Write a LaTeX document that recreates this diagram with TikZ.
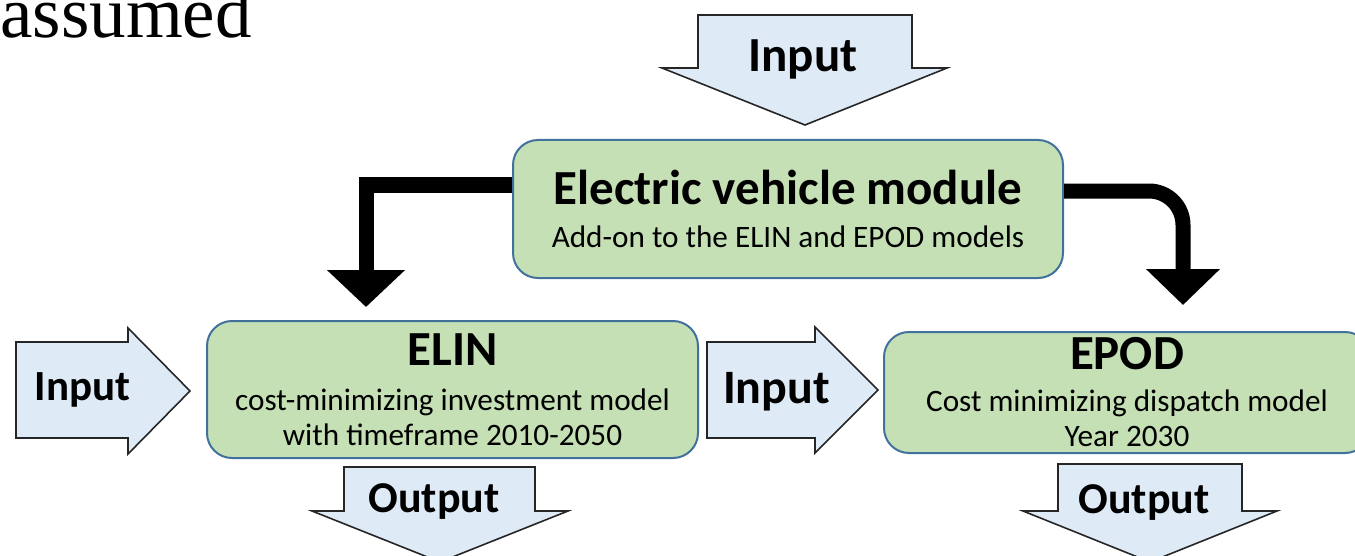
\documentclass[tikz,border=0pt]{standalone}
\usepackage{fontspec}
\setmainfont{Liberation Serif}
\setsansfont{Carlito}
\usetikzlibrary{arrows.meta,positioning,calc}
\definecolor{ModelGreen}{HTML}{C5E0B4}
\definecolor{ModelEdge}{HTML}{41719C}
\definecolor{FlowBlue}{HTML}{DEEBF7}
\newcommand{\modeltitle}[1]{{\fontsize{24.5}{24.5}\selectfont\bfseries #1}}

\begin{document}
\begin{tikzpicture}[
  x=0.5pt, y=-0.5pt,
  model/.style={draw=ModelEdge,line width=1pt,fill=ModelGreen,rounded corners=12.5pt,align=center,inner sep=0pt,
    font=\sffamily\fontsize{15.6}{17.5}\selectfont},
  flow/.style={draw=black!85,line width=0.8pt,fill=FlowBlue,line join=miter},
  flowtext/.style={anchor=base,inner sep=0pt,font=\sffamily\bfseries\fontsize{24}{24}\selectfont},
  link/.style={line width=7.5pt,line join=miter}
]
  \clip (0,0) rectangle (1355,556);

  % text of the page above
  \node[anchor=base west,inner sep=0pt,font=\fontsize{36.5}{40}\selectfont] (assumed) at (0,38) {assumed};

  % models
  \node[model,minimum width=275pt,minimum height=69pt] (ev) at (788,209)
    {\modeltitle{Electric vehicle module}\\[4pt] Add-on to the ELIN and EPOD models};
  \node[model,minimum width=245.5pt,minimum height=68.5pt] (elin) at (452.5,389.5)
    {\modeltitle{ELIN}\\[5pt] cost-minimizing investment model\\ with timeframe 2010-2050};
  \node[model,minimum width=243pt,minimum height=60.5pt] (epod) at (1127,392.5)
    {\modeltitle{EPOD}\\[3.5pt] Cost minimizing dispatch model\\ Year 2030};

  % block arrows
  \draw[flow] (698,15) -- (912,15) -- (912,68) -- (947,68) -- (805,125) -- (662,68) -- (698,68) -- cycle;
  \node[flowtext,font=\sffamily\bfseries\fontsize{24.5}{24.5}\selectfont] (evin) at (803,72) {Input};
  \draw[flow] (16,342) -- (128,342) -- (128,328) -- (190,391) -- (128,454) -- (128,438) -- (16,438) -- cycle;
  \node[flowtext,font=\sffamily\bfseries\fontsize{21.5}{21.5}\selectfont] (elinin) at (82.5,400) {Input};
  \draw[flow] (707,342) -- (815,342) -- (815,327) -- (878,390) -- (815,453) -- (815,438) -- (707,438) -- cycle;
  \node[flowtext] (epodin) at (776.5,403) {Input};
  \draw[flow] (344,467) -- (535,467) -- (535,511) -- (568,511) -- (440,562) -- (312,511) -- (344,511) -- cycle;
  \node[flowtext,font=\sffamily\bfseries\fontsize{22}{22}\selectfont] (elinout) at (434,512) {Output};
  \draw[flow] (1058,464) -- (1242,464) -- (1242,511) -- (1277,511) -- (1150,562) -- (1023,511) -- (1058,511) -- cycle;
  \node[flowtext,font=\sffamily\bfseries\fontsize{22}{22}\selectfont] (epodout) at (1144,513) {Output};

  % links from the module
  \coordinate (lbend) at (366,185);
  \coordinate (ltip) at (366,307);
  \coordinate (rbend) at (1183,191);
  \coordinate (rtip) at (1183,305);
  \draw[link,-{Triangle[width=38pt,length=18.5pt]}] (ev.west |- lbend) -- (lbend) -- (ltip);
  \draw[link,rounded corners=17pt,-{Triangle[width=36pt,length=18pt]}] (ev.east |- rbend) -- (rbend) -- (rtip);
\end{tikzpicture}
\end{document}
